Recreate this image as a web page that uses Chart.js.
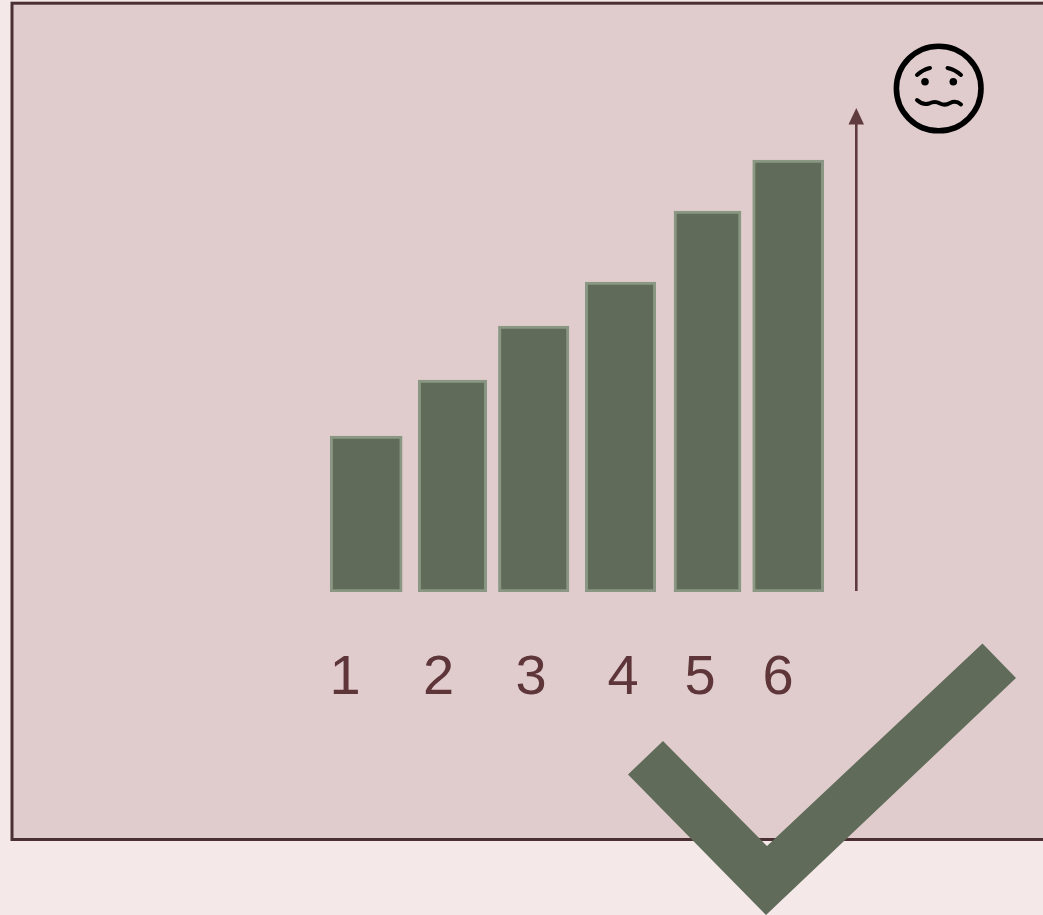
<!DOCTYPE html>
<html>
<head>
<meta charset="utf-8">
<title>Chart</title>
<script src="https://cdn.jsdelivr.net/npm/chart.js@4/dist/chart.umd.min.js"></script>
<style>
	html, body { margin: 0; padding: 0; background: #f4e9e8; overflow: hidden; }
	#art, #chart { position: absolute; left: 0; top: 0; }
</style>
</head>
<body>
<svg id="art" width="1043" height="915" viewBox="0 0 1043 915">
	<rect x="12" y="3.2" width="1100" height="836.3" fill="#e0cccd" stroke="#4a3033" stroke-width="3"/>
	<line x1="856.3" y1="591" x2="856.3" y2="120" stroke="#5f3a3e" stroke-width="2.6"/>
	<polygon points="856.3,108 864,124.5 848.5,124.5" fill="#5f3a3e"/>
	<g fill="none" stroke="#000" stroke-width="5.6" stroke-linecap="round" stroke-linejoin="round">
		<circle cx="938.7" cy="88.5" r="42.3"/>
		<g stroke-width="4">
			<path d="M917 75 Q923 69.5 930 68"/>
			<path d="M947.5 68 Q955 69.5 961 75"/>
			<path d="M917 100 Q923 105.5 929 103.5 Q935 100.5 940 103.5 Q945 106 950 103 Q956 100 961 104.5"/>
		</g>
	</g>
	<circle cx="925" cy="81.7" r="3.8"/>
	<circle cx="953.3" cy="81.7" r="3.8"/>
	<polygon points="663,741 628,774.5 766,915 1016,678 982.5,643.5 767,846" fill="#606c59"/>
</svg>
<canvas id="chart" width="1043" height="915"></canvas>
<script>
// values (bar heights, no unit on the original)
const categories = ['1', '2', '3', '4', '5', '6'];
const barValues = [156, 212, 266, 310, 381, 432];

// the bars and their labels are hand placed and uneven in the original
const barCentres = [366.2, 452.5, 533.7, 620.5, 707.5, 788.2];
const barWidths = [72, 68.5, 70.5, 70.5, 67, 71];
const labelCentres = [345, 438.5, 531, 623, 700, 778];

new Chart(document.getElementById('chart'), {
	type: 'bar',
	data: {
		// one dataset per bar, barThickness can't vary inside a dataset
		datasets: categories.map((cat, i) => ({
			label: cat,
			data: [{ x: barCentres[i], y: barValues[i] }],
			barThickness: barWidths[i],
			grouped: false,
			backgroundColor: '#606c59',
			borderColor: '#8a9783',
			borderWidth: 3,
			borderSkipped: false
		}))
	},
	options: {
		responsive: false,
		animation: false,
		plugins: { legend: { display: false }, title: { display: false }, tooltip: { enabled: false } },
		layout: { padding: 0 },
		scales: {
			x: {
				type: 'linear',
				offset: false,
				min: 0,
				max: 1043,
				grid: { display: false },
				border: { display: false },
				afterBuildTicks: scale => { scale.ticks = labelCentres.map(v => ({ value: v })); },
				afterFit: scale => { scale.height = 323; },
				ticks: {
					autoSkip: false,
					maxRotation: 0,
					padding: 44.5,
					color: '#5e363a',
					font: { family: '"Liberation Sans", Arial, sans-serif', size: 56 },
					callback: (value, index) => categories[index]
				}
			},
			y: { display: false, min: 0, max: 592 }
		}
	}
});
</script>
</body>
</html>
